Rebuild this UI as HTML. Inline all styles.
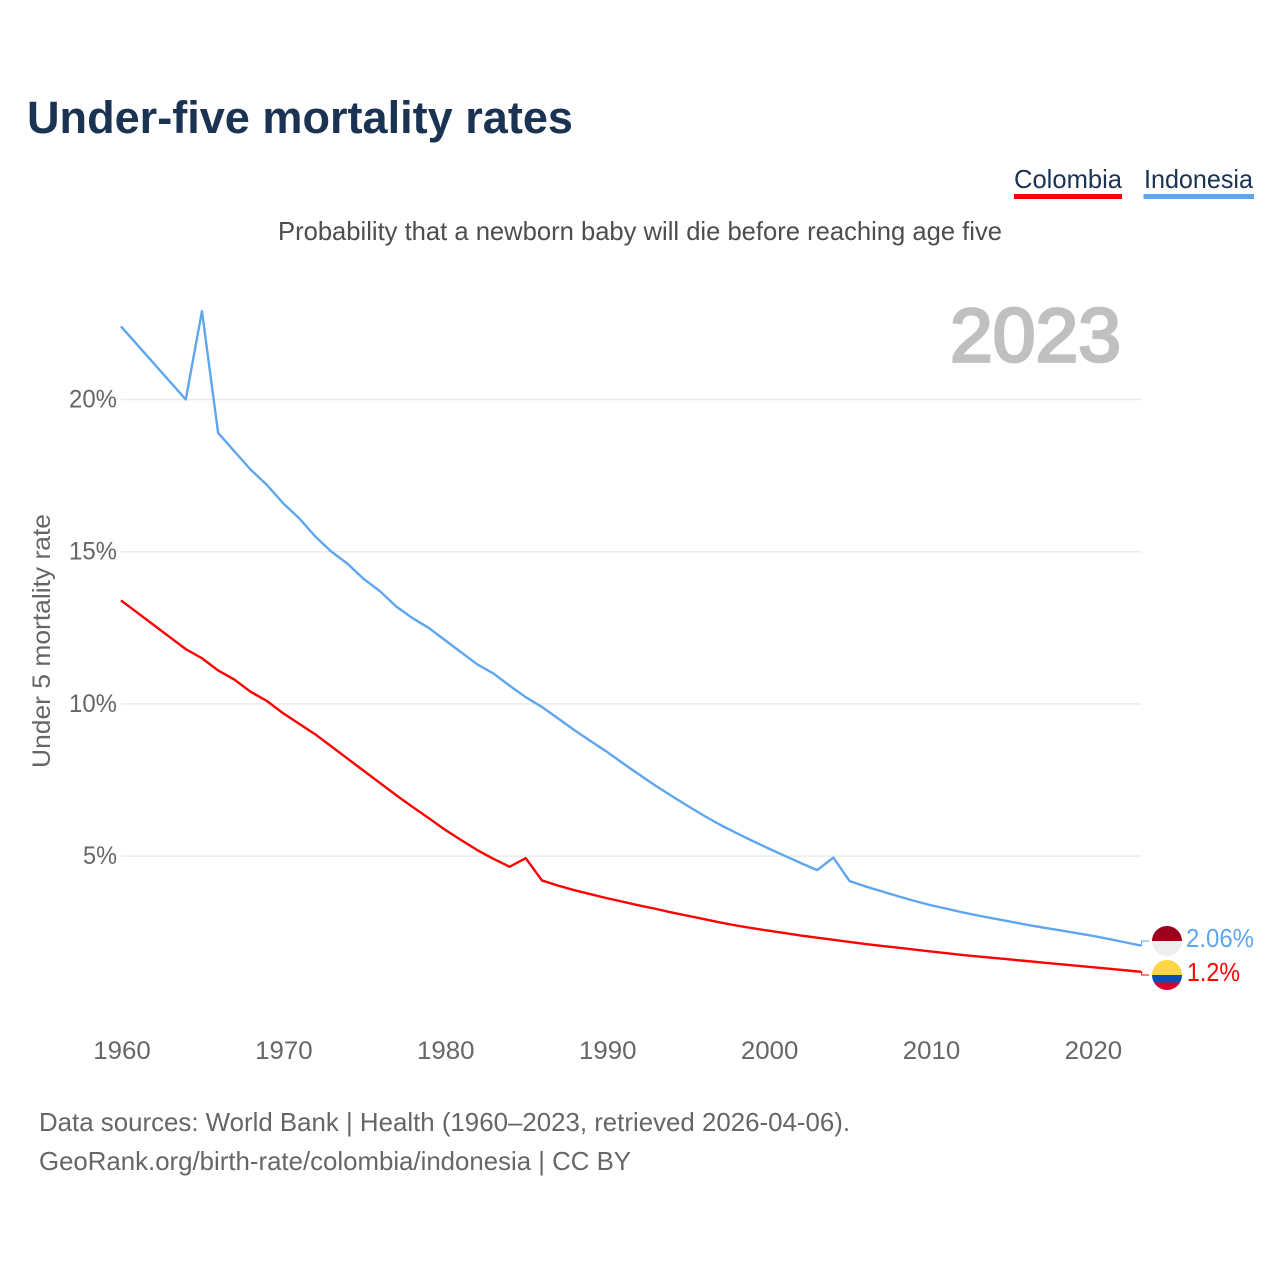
<!DOCTYPE html>
<html lang="en">
<head>
<meta charset="utf-8">
<title>Under-five mortality rates</title>
<style>
html,body{margin:0;padding:0;background:#fff;width:1280px;height:1280px;overflow:hidden}
svg{display:block}
text{font-family:"Liberation Sans",sans-serif}
</style>
</head>
<body>
<svg id="chart" xmlns="http://www.w3.org/2000/svg" width="1280" height="1280" viewBox="0 0 1280 1280">
  <defs>
    <clipPath id="flag-clip-id"><circle cx="1167" cy="941" r="15"/></clipPath>
    <clipPath id="flag-clip-co"><circle cx="1167" cy="975" r="15"/></clipPath>
  </defs>
  <rect x="0" y="0" width="1280" height="1280" fill="#fff"/>
  <text x="27" y="133" font-size="45" font-weight="700" fill="#1a3352" textLength="546" lengthAdjust="spacingAndGlyphs">Under-five mortality rates</text>
  <text x="1014" y="188" font-size="26" fill="#1a3352" textLength="108" lengthAdjust="spacingAndGlyphs">Colombia</text>
  <rect x="1014" y="194" width="108" height="5" fill="#ff0000"/>
  <text x="1144" y="188" font-size="26" fill="#1a3352" textLength="109" lengthAdjust="spacingAndGlyphs">Indonesia</text>
  <rect x="1143.5" y="194" width="110.5" height="5" fill="#5ea6ee"/>
  <text x="278" y="240" font-size="26" fill="#4d4d4d" textLength="724" lengthAdjust="spacingAndGlyphs">Probability that a newborn baby will die before reaching age five</text>
  <text x="950" y="361.5" font-size="76" font-weight="400" fill="#c0c0c0" stroke="#c0c0c0" stroke-width="2.8" textLength="171" lengthAdjust="spacingAndGlyphs">2023</text>
  <text transform="translate(50 768) rotate(-90)" font-size="25" fill="#666" textLength="254" lengthAdjust="spacingAndGlyphs">Under 5 mortality rate</text>
  <g id="grid"></g>
  <g id="yticks"></g>
  <g id="xticks"></g>
  <g id="series"></g>
  <g clip-path="url(#flag-clip-id)">
    <rect x="1152" y="926" width="30" height="15" fill="#9b001c"/>
    <rect x="1152" y="941" width="30" height="15" fill="#eeeeee"/>
  </g>
  <g clip-path="url(#flag-clip-co)">
    <rect x="1152" y="960" width="30" height="15" fill="#ffd740"/>
    <rect x="1152" y="975" width="30" height="7.5" fill="#0a50b4"/>
    <rect x="1152" y="982.5" width="30" height="7.5" fill="#d8002c"/>
  </g>
  <text x="1186" y="947" font-size="26" fill="#5ea6ee" textLength="68" lengthAdjust="spacingAndGlyphs">2.06%</text>
  <text x="1187" y="981" font-size="26" fill="#ff0000" textLength="53" lengthAdjust="spacingAndGlyphs">1.2%</text>
  <text x="39" y="1131" font-size="26" fill="#666" textLength="811" lengthAdjust="spacingAndGlyphs">Data sources: World Bank | Health (1960–2023, retrieved 2026-04-06).</text>
  <text x="39" y="1170" font-size="26" fill="#666" textLength="592" lengthAdjust="spacingAndGlyphs">GeoRank.org/birth-rate/colombia/indonesia | CC BY</text>
</svg>
<script>
const startYear = 1960;
const indonesiaValues = [22.4,21.8,21.2,20.6,20.0,22.9,18.9,18.3,17.7,17.2,16.6,16.1,15.5,15.0,14.6,14.1,13.7,13.2,12.82,12.5,12.1,11.7,11.3,11.0,10.6,10.22,9.9,9.52,9.14,8.78,8.43,8.05,7.68,7.32,6.98,6.65,6.33,6.03,5.76,5.5,5.25,5.01,4.77,4.54,4.95,4.18,4.0,3.84,3.68,3.53,3.39,3.27,3.15,3.04,2.94,2.84,2.74,2.65,2.56,2.47,2.38,2.28,2.17,2.06];
const colombiaValues = [13.4,13.0,12.6,12.2,11.8,11.5,11.1,10.8,10.4,10.1,9.7,9.35,9.0,8.6,8.2,7.8,7.4,7.0,6.62,6.25,5.87,5.53,5.2,4.91,4.65,4.93,4.2,4.03,3.88,3.75,3.62,3.5,3.38,3.27,3.15,3.04,2.93,2.82,2.72,2.63,2.55,2.47,2.39,2.32,2.25,2.18,2.11,2.05,1.99,1.93,1.87,1.81,1.75,1.7,1.65,1.6,1.55,1.5,1.45,1.4,1.35,1.3,1.25,1.2];
const yTickValues = [5,10,15,20];
const xTickValues = [1960,1970,1980,1990,2000,2010,2020];

const NS = 'http://www.w3.org/2000/svg';
function xScale(year){ return 121 + (year - 1960) * (1141 - 121) / 63; }
function yScale(v){ return 1008.3 - v * 30.44; }
function make(tag, attrs, text){
  const el = document.createElementNS(NS, tag);
  for (const k in attrs) el.setAttribute(k, attrs[k]);
  if (text !== undefined) el.textContent = text;
  return el;
}
const grid = document.getElementById('grid');
const yticks = document.getElementById('yticks');
const xticks = document.getElementById('xticks');
const series = document.getElementById('series');

yTickValues.forEach(function(v){
  const line = make('line', {x1:121, x2:1141.5, y1:yScale(v), y2:yScale(v), stroke:'#ebebeb', 'stroke-width':1.5});
  
  
  grid.appendChild(line);
  const label = make('text', {x:117, y:yScale(v) + 8, 'text-anchor':'end', 'font-size':25, fill:'#666', textLength:(v < 10 ? 34 : 48), lengthAdjust:'spacingAndGlyphs'}, v + '%');
  
  
  yticks.appendChild(label);
});
xTickValues.forEach(function(y){
  const label = make('text', {x:xScale(y) + 1, y:1059, 'text-anchor':'middle', 'font-size':25, fill:'#666', textLength:57.5, lengthAdjust:'spacingAndGlyphs'}, String(y));
  
  
  xticks.appendChild(label);
});
function pathFor(values){
  return values.map(function(v, i){
    return (i ? 'L' : 'M') + xScale(startYear + i).toFixed(2) + ' ' + yScale(v).toFixed(2);
  }).join(' ');
}
function connector(values, flagY){
  const n = values.length - 1;
  const x = xScale(startYear + n);
  const y = yScale(values[n]);
  return 'M' + x + ' ' + y + ' L' + (x + 0.7) + ' ' + y + ' L' + (x + 0.7) + ' ' + flagY + ' L' + (x + 8) + ' ' + flagY;
}
const connectorId = make('path', {d:connector(indonesiaValues, 941), fill:'none', stroke:'#5ea6ee', 'stroke-width':1});


series.appendChild(connectorId);
const connectorCo = make('path', {d:connector(colombiaValues, 975), fill:'none', stroke:'#ff0000', 'stroke-width':1});


series.appendChild(connectorCo);
const lineId = make('path', {d:pathFor(indonesiaValues), fill:'none', stroke:'#5ea6ee', 'stroke-width':2.4, 'stroke-linejoin':'round'});


series.appendChild(lineId);
const lineCo = make('path', {d:pathFor(colombiaValues), fill:'none', stroke:'#ff0000', 'stroke-width':2.4, 'stroke-linejoin':'round'});


series.appendChild(lineCo);
</script>
</body>
</html>
